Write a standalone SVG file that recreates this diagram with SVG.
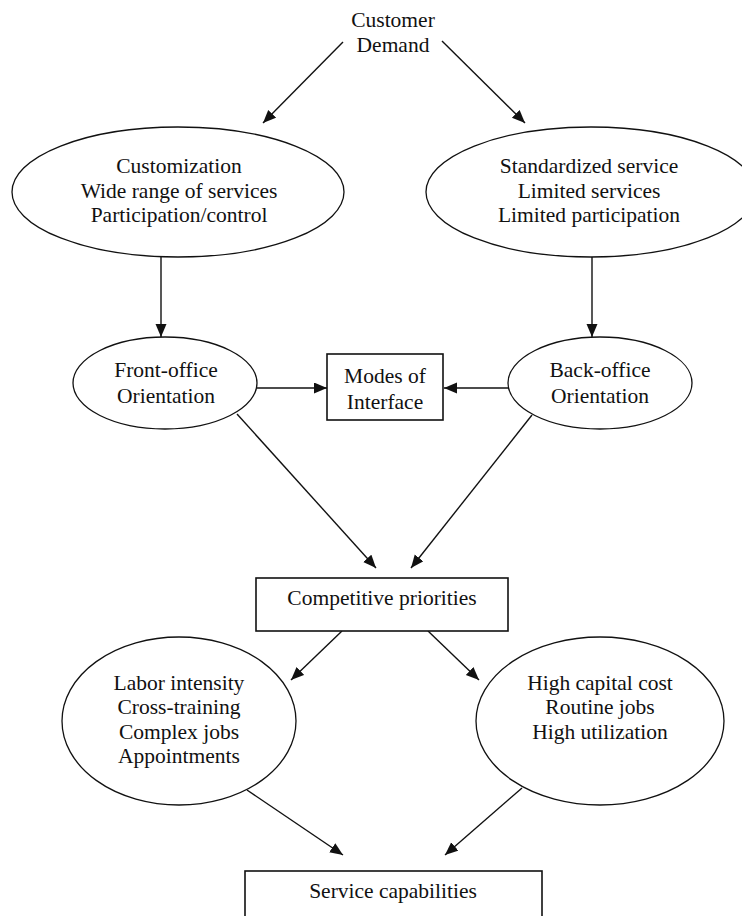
<svg xmlns="http://www.w3.org/2000/svg" width="742" height="916" viewBox="0 0 742 916">
<style>
text{font-family:"Liberation Serif","Times New Roman",serif;font-size:21.5px;fill:#111;text-anchor:middle}
.shape{fill:#fff;stroke:#111;stroke-width:1.3}
.box{fill:#fff;stroke:#111;stroke-width:1.6}
.edge{stroke:#111;stroke-width:1.4;fill:none;marker-end:url(#ah)}
</style>
<defs>
<marker id="ah" markerUnits="userSpaceOnUse" markerWidth="14" markerHeight="12" refX="13" refY="5.5" orient="auto">
<path d="M0,0 L13,5.5 L0,11 z" fill="#111"/>
</marker>
</defs>
<rect width="742" height="916" fill="#fff"/>
<g id="connectors">
<line class="edge" x1="343" y1="42" x2="263" y2="123"/>
<line class="edge" x1="442" y1="41" x2="525" y2="123"/>
<line class="edge" x1="161" y1="257" x2="161" y2="337"/>
<line class="edge" x1="592" y1="257" x2="592" y2="337"/>
<line class="edge" x1="257" y1="388" x2="327" y2="388"/>
<line class="edge" x1="509" y1="388" x2="444" y2="388"/>
<line class="edge" x1="237" y1="414" x2="376" y2="568"/>
<line class="edge" x1="532" y1="415" x2="411" y2="568"/>
<line class="edge" x1="342" y1="631" x2="291" y2="680"/>
<line class="edge" x1="428" y1="631" x2="479" y2="680"/>
<line class="edge" x1="247" y1="790" x2="343" y2="855"/>
<line class="edge" x1="522" y1="788" x2="445" y2="855"/>
</g>
<g id="customer-demand">
<text x="393" y="27">Customer</text>
<text x="393" y="52">Demand</text>
</g>
<g id="customization">
<ellipse class="shape" cx="178" cy="192" rx="166" ry="65"/>
<text x="179" y="173">Customization</text>
<text x="179" y="198">Wide range of services</text>
<text x="179" y="222">Participation/control</text>
</g>
<g id="standardized">
<ellipse class="shape" cx="591" cy="192" rx="165" ry="65"/>
<text x="589" y="173">Standardized service</text>
<text x="589" y="198">Limited services</text>
<text x="589" y="222">Limited participation</text>
</g>
<g id="front-office">
<ellipse class="shape" cx="165" cy="383" rx="92" ry="46"/>
<text x="166" y="377">Front-office</text>
<text x="166" y="403">Orientation</text>
</g>
<g id="modes">
<rect class="box" x="327" y="354" width="116" height="66"/>
<text x="385" y="383">Modes of</text>
<text x="385" y="409">Interface</text>
</g>
<g id="back-office">
<ellipse class="shape" cx="600" cy="383" rx="92" ry="46"/>
<text x="600" y="377">Back-office</text>
<text x="600" y="403">Orientation</text>
</g>
<g id="competitive">
<rect class="box" x="256" y="578" width="252" height="53"/>
<text x="382" y="605">Competitive priorities</text>
</g>
<g id="labor">
<ellipse class="shape" cx="179" cy="721" rx="117" ry="84"/>
<text x="179" y="690">Labor intensity</text>
<text x="179" y="714">Cross-training</text>
<text x="179" y="739">Complex jobs</text>
<text x="179" y="763">Appointments</text>
</g>
<g id="capital">
<ellipse class="shape" cx="600" cy="721" rx="124" ry="84"/>
<text x="600" y="690">High capital cost</text>
<text x="600" y="714">Routine jobs</text>
<text x="600" y="739">High utilization</text>
</g>
<g id="service-capabilities">
<rect class="box" x="245" y="871" width="297" height="60"/>
<text x="393" y="898">Service capabilities</text>
</g>
</svg>
